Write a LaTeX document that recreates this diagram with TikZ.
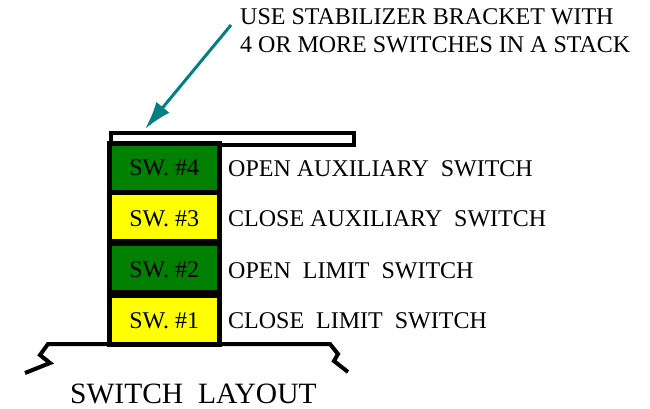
\documentclass[tikz,border=0pt]{standalone}
\usepackage{fontspec}
\setmainfont{Liberation Serif}
\usetikzlibrary{arrows.meta}
\definecolor{swgreen}{RGB}{0,128,0}
\definecolor{swyellow}{RGB}{255,255,0}
\definecolor{arrowteal}{RGB}{0,128,128}
\tikzset{
  cell/.style={draw=black, line width=5pt, minimum width=109.5pt, minimum height=49pt,
    inner sep=0pt, font=\fontsize{24}{28}\selectfont},
  greencell/.style={cell, fill=swgreen},
  yellowcell/.style={cell, fill=swyellow},
  lbl/.style={anchor=base west, inner sep=0pt, font=\fontsize{24}{28}\selectfont},
  heavy/.style={line width=4pt, line join=miter},
}
\begin{document}
\begin{tikzpicture}[x=1pt,y=-1pt]
\useasboundingbox (0,0) rectangle (650,409);
% stabilizer bracket
\node[draw=black, line width=4pt, fill=white, minimum width=243pt, minimum height=12pt,
  inner sep=0pt, anchor=north west] (bracket) at (109,131) {};
% switch cells
\node[greencell]  (sw4) at (164.25,168)   {};
\node[yellowcell] (sw3) at (164.25,217)   {};
\node[greencell]  (sw2) at (164.25,268)   {};
\node[yellowcell] (sw1) at (164.25,319.5) {};
\node[lbl, anchor=base] at (164.25,175) {SW. \#4};
\node[lbl, anchor=base] at (164.25,226) {SW. \#3};
\node[lbl, anchor=base] at (164.25,277) {SW. \#2};
\node[lbl, anchor=base] at (164.25,328) {SW. \#1};
% labels
\node[lbl] (l4) at (228,176) {OPEN AUXILIARY\ \ SWITCH};
\node[lbl] (l3) at (228,226) {CLOSE AUXILIARY\ \ SWITCH};
\node[lbl] (l2) at (228,278) {OPEN\ \ LIMIT\ \ SWITCH};
\node[lbl] (l1) at (228,328) {CLOSE\ \ LIMIT\ \ SWITCH};
% base
\draw[heavy] (25,373) -- (50,363) -- (40,355) -- (48,344) -- (330,344)
  -- (338,354) -- (334,361) -- (348,372);
% title
\node[anchor=base west, inner sep=0pt, font=\fontsize{29.5}{33}\selectfont] (title) at (70,403) {SWITCH\ \ LAYOUT};
% note
\node[lbl] (note1) at (240,25) {USE STABILIZER BRACKET WITH};
\node[lbl] (note2) at (240,52.7) {4 OR MORE SWITCHES IN A STACK};
\coordinate (tail) at (231,25);
\coordinate (tip) at (145,129);
\draw[arrowteal, line width=3pt, -{Latex[length=28pt,width=17pt]}] (tail) -- (tip);
\end{tikzpicture}
\end{document}
